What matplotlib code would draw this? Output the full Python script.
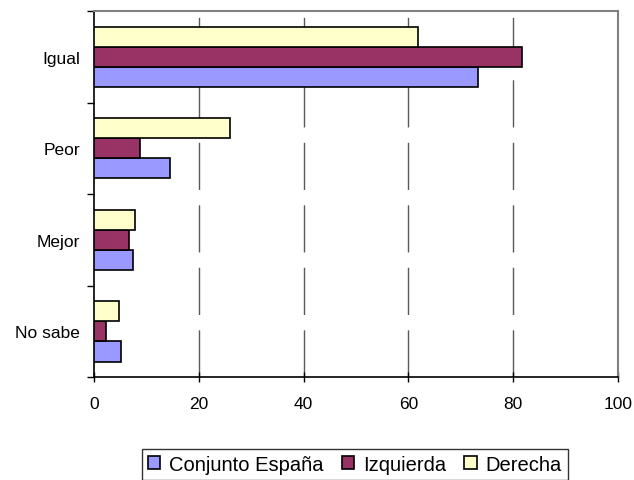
import numpy as np
import matplotlib
matplotlib.use('Agg')
import matplotlib.pyplot as plt

plt.rcParams['font.family'] = ['Liberation Sans', 'DejaVu Sans']

# ── Data ──
categories = ['No sabe', 'Mejor', 'Peor', 'Igual']
conjunto = [5.1, 7.4, 14.5, 73.3]
izquierda = [2.3, 6.7, 8.8, 81.7]
derecha = [4.8, 7.8, 25.9, 61.9]
series_names = ['Conjunto España', 'Izquierda', 'Derecha']
colors = ['#9999FF', '#993366', '#FFFFCC']
xticks = [0, 20, 40, 60, 80, 100]

fig = plt.figure(figsize=(6.34, 4.81), dpi=100)
ax = fig.add_axes([0.148, 0.214, 0.827, 0.761])

y = np.arange(len(categories))
h = 0.22
for i, (vals, name, col) in enumerate(zip([conjunto, izquierda, derecha], series_names, colors)):
    ax.barh(y + (i - 1) * h, vals, height=h, color=col, edgecolor='black',
            linewidth=1.2, label=name, zorder=3)

ax.set_xlim(0, 100)
ax.set_ylim(-0.5, 3.5)

# x axis
ax.set_xticks(xticks)
ax.tick_params(axis='x', direction='inout', length=7, width=1, labelsize=12.5, pad=10)
for xv in xticks[1:-1]:
    ax.axvline(xv, color='#5a5a5a', linewidth=1, dashes=(34, 11), zorder=1)

# y axis: tick marks between categories, labels at centers
ax.set_yticks(np.arange(-0.5, len(categories), 1.0))
ax.set_yticklabels([])
ax.tick_params(axis='y', which='major', direction='out', length=5, width=1)
ax.set_yticks(y, minor=True)
ax.set_yticklabels(categories, minor=True)
ax.tick_params(axis='y', which='minor', length=0, labelsize=12.5, pad=10)

for s in ['left', 'bottom']:
    ax.spines[s].set_color('black')
    ax.spines[s].set_linewidth(1.2)
for s in ['top', 'right']:
    ax.spines[s].set_color('#808080')
    ax.spines[s].set_linewidth(1.5)

leg = fig.legend(loc='lower center', bbox_to_anchor=(0.56, 0.0), ncol=3, frameon=True,
                 fancybox=False, edgecolor='black', fontsize=14.5,
                 handlelength=0.6, handleheight=0.6, handletextpad=0.45,
                 columnspacing=0.9, borderpad=0.3, borderaxespad=0)
leg.get_frame().set_linewidth(1)

fig.savefig('out.png', dpi=100)
